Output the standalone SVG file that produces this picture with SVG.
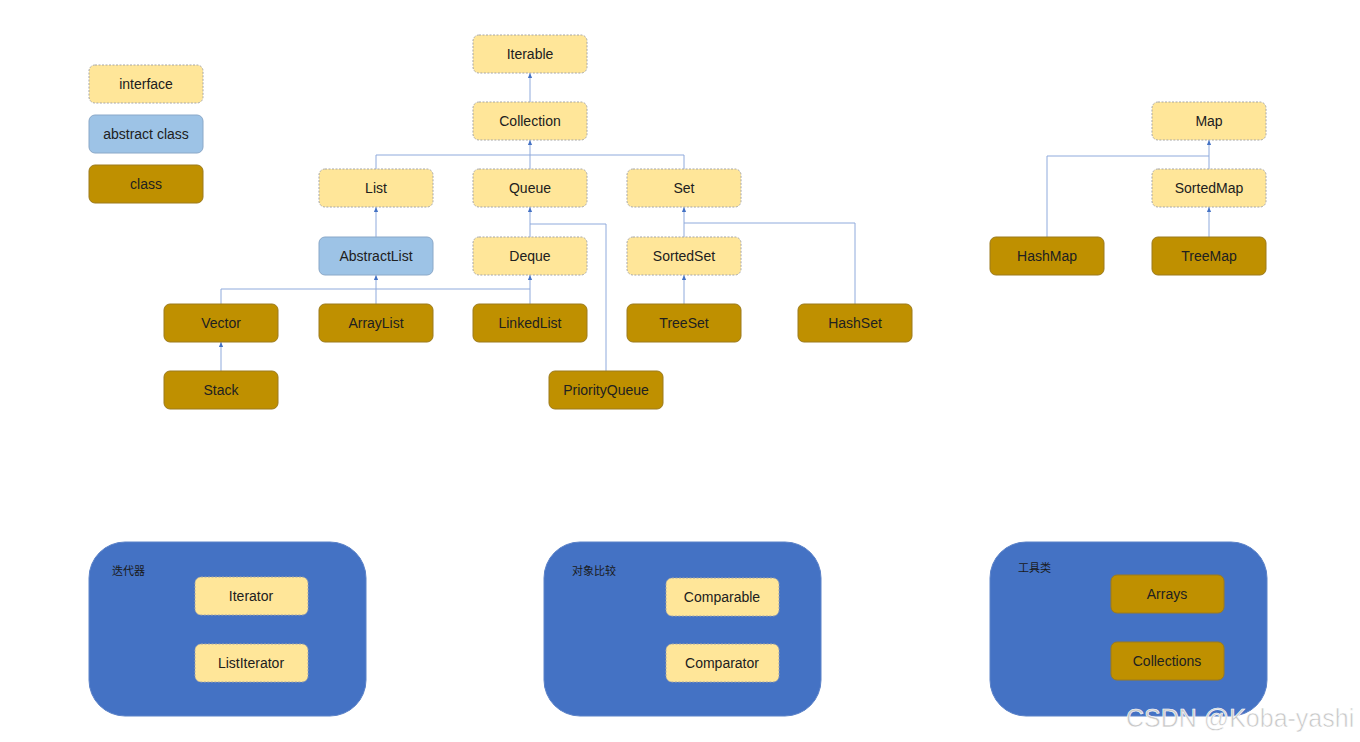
<svg xmlns="http://www.w3.org/2000/svg" width="1360" height="742" viewBox="0 0 1360 742">
<defs>
<marker id="arr" viewBox="0 0 6 6" refX="6" refY="3" markerWidth="5" markerHeight="5" orient="auto" markerUnits="userSpaceOnUse">
<path d="M0,0.5 L6,3 L0,5.5 Z" fill="#4472C4"/>
</marker>
<style>
.i{fill:#FFE699;stroke:#A6A6A6;stroke-width:1;stroke-dasharray:2 1.5}
.a{fill:#9DC3E6;stroke:#8AA8C8;stroke-width:1}
.c{fill:#BF9000;stroke:#9C7A1C;stroke-width:1}
.g{fill:#4472C4;stroke:#5B82C8;stroke-width:1}
text{font-family:"Liberation Sans",Arial,sans-serif;font-size:14px;fill:#202020;text-anchor:middle;dominant-baseline:central}
.cj{font-family:"Noto Sans CJK SC",sans-serif;font-size:11px;fill:#1a1a1a;text-anchor:start}
.ln{fill:none;stroke:#8FAADC;stroke-width:1}
.wm{font-family:"Liberation Sans",Arial,sans-serif;font-size:25px;fill:#C8C8C8;stroke:#FFFFFF;stroke-width:0.6;text-anchor:start}
</style>
</defs>
<rect width="1360" height="742" fill="#FFFFFF"/>

<g id="connectors">
<path class="ln" d="M530,102 V73" marker-end="url(#arr)"/>
<path class="ln" d="M530,169 V140" marker-end="url(#arr)"/>
<path class="ln" d="M376,169 V155 H684 V169"/>
<path class="ln" d="M376,237 V207" marker-end="url(#arr)"/>
<path class="ln" d="M530,237 V207" marker-end="url(#arr)"/>
<path class="ln" d="M530,224 H606 V371"/>
<path class="ln" d="M684,237 V207" marker-end="url(#arr)"/>
<path class="ln" d="M684,223 H855 V304"/>
<path class="ln" d="M684,304 V275" marker-end="url(#arr)"/>
<path class="ln" d="M376,304 V275" marker-end="url(#arr)"/>
<path class="ln" d="M530,304 V275" marker-end="url(#arr)"/>
<path class="ln" d="M221,304 V289 H530"/>
<path class="ln" d="M221,371 V342" marker-end="url(#arr)"/>
<path class="ln" d="M1209,169 V140" marker-end="url(#arr)"/>
<path class="ln" d="M1209,156 H1047 V237"/>
<path class="ln" d="M1209,237 V207" marker-end="url(#arr)"/>
</g>

<g id="legend-interface"><rect class="i" x="89" y="65" width="114" height="38" rx="6"/><text x="146" y="84">interface</text></g>
<g id="legend-abstract"><rect class="a" x="89" y="115" width="114" height="38" rx="6"/><text x="146" y="134">abstract class</text></g>
<g id="legend-class"><rect class="c" x="89" y="165" width="114" height="38" rx="6"/><text x="146" y="184">class</text></g>

<g id="Iterable"><rect class="i" x="473" y="35" width="114" height="38" rx="6"/><text x="530" y="54">Iterable</text></g>
<g id="Collection"><rect class="i" x="473" y="102" width="114" height="38" rx="6"/><text x="530" y="121">Collection</text></g>
<g id="List"><rect class="i" x="319" y="169" width="114" height="38" rx="6"/><text x="376" y="188">List</text></g>
<g id="Queue"><rect class="i" x="473" y="169" width="114" height="38" rx="6"/><text x="530" y="188">Queue</text></g>
<g id="Set"><rect class="i" x="627" y="169" width="114" height="38" rx="6"/><text x="684" y="188">Set</text></g>
<g id="AbstractList"><rect class="a" x="319" y="237" width="114" height="38" rx="6"/><text x="376" y="256">AbstractList</text></g>
<g id="Deque"><rect class="i" x="473" y="237" width="114" height="38" rx="6"/><text x="530" y="256">Deque</text></g>
<g id="SortedSet"><rect class="i" x="627" y="237" width="114" height="38" rx="6"/><text x="684" y="256">SortedSet</text></g>
<g id="Vector"><rect class="c" x="164" y="304" width="114" height="38" rx="6"/><text x="221" y="323">Vector</text></g>
<g id="ArrayList"><rect class="c" x="319" y="304" width="114" height="38" rx="6"/><text x="376" y="323">ArrayList</text></g>
<g id="LinkedList"><rect class="c" x="473" y="304" width="114" height="38" rx="6"/><text x="530" y="323">LinkedList</text></g>
<g id="TreeSet"><rect class="c" x="627" y="304" width="114" height="38" rx="6"/><text x="684" y="323">TreeSet</text></g>
<g id="HashSet"><rect class="c" x="798" y="304" width="114" height="38" rx="6"/><text x="855" y="323">HashSet</text></g>
<g id="Stack"><rect class="c" x="164" y="371" width="114" height="38" rx="6"/><text x="221" y="390">Stack</text></g>
<g id="PriorityQueue"><rect class="c" x="549" y="371" width="114" height="38" rx="6"/><text x="606" y="390">PriorityQueue</text></g>

<g id="Map"><rect class="i" x="1152" y="102" width="114" height="38" rx="6"/><text x="1209" y="121">Map</text></g>
<g id="SortedMap"><rect class="i" x="1152" y="169" width="114" height="38" rx="6"/><text x="1209" y="188">SortedMap</text></g>
<g id="HashMap"><rect class="c" x="990" y="237" width="114" height="38" rx="6"/><text x="1047" y="256">HashMap</text></g>
<g id="TreeMap"><rect class="c" x="1152" y="237" width="114" height="38" rx="6"/><text x="1209" y="256">TreeMap</text></g>

<g id="group-iterator">
<rect class="g" x="89" y="542" width="277" height="174" rx="36"/>
<text class="cj" x="112" y="570">迭代器</text>
<g id="Iterator"><rect class="i" x="195" y="577" width="113" height="38" rx="6"/><text x="251" y="596">Iterator</text></g>
<g id="ListIterator"><rect class="i" x="195" y="644" width="113" height="38" rx="6"/><text x="251" y="663">ListIterator</text></g>
</g>

<g id="group-compare">
<rect class="g" x="544" y="542" width="277" height="174" rx="36"/>
<text class="cj" x="572" y="570">对象比较</text>
<g id="Comparable"><rect class="i" x="666" y="578" width="113" height="38" rx="6"/><text x="722" y="597">Comparable</text></g>
<g id="Comparator"><rect class="i" x="666" y="644" width="113" height="38" rx="6"/><text x="722" y="663">Comparator</text></g>
</g>

<g id="group-tools">
<rect class="g" x="990" y="542" width="277" height="174" rx="36"/>
<text class="cj" x="1018" y="567">工具类</text>
<g id="Arrays"><rect class="c" x="1111" y="575" width="113" height="38" rx="6"/><text x="1167" y="594">Arrays</text></g>
<g id="Collections"><rect class="c" x="1111" y="642" width="113" height="38" rx="6"/><text x="1167" y="661">Collections</text></g>
</g>

<text class="wm" x="1126" y="718">CSDN @Koba-yashi</text>
</svg>
